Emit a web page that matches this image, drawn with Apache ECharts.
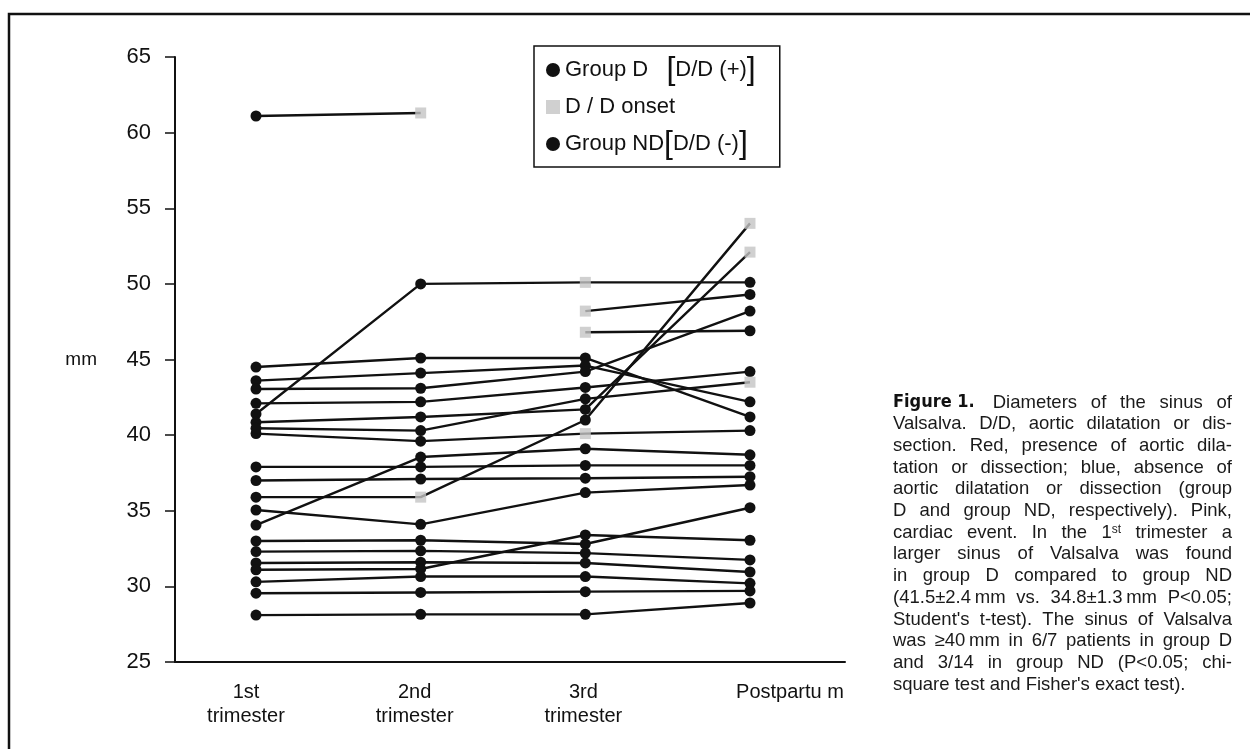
<!DOCTYPE html>
<html>
<head>
<meta charset="utf-8">
<script src="https://cdn.jsdelivr.net/npm/echarts@6/dist/echarts.min.js"></script>
<style>
html,body{margin:0;padding:0;background:#fff;}
#chart{width:1250px;height:749px;}
</style>
</head>
<body>
<div id="chart"></div>
<script>
// ---------- DATA ----------
const categories = ['1st\ntrimester', '2nd\ntrimester', '3rd\ntrimester', 'Postpartu m'];
const yTicks = [25, 30, 35, 40, 45, 50, 55, 60, 65];
// one row per patient: sinus of Valsalva diameter (mm) at the four time points (null = not shown)
const patientValues = [
  [61.1, 61.3, null, null],
  [41.4, 50.0, 50.1, 50.1],
  [35.9, 35.9, 41.0, 54.0],
  [null, null, 48.2, 49.3],
  [null, null, 46.8, 46.9],
  [40.1, 39.6, 40.1, 40.3],
  [40.85, 41.2, 41.7, 52.1],
  [44.5, 45.1, 45.1, 41.2],
  [43.6, 44.1, 44.6, 42.2],
  [43.05, 43.1, 44.2, 48.2],
  [42.1, 42.2, 43.15, 44.2],
  [40.45, 40.3, 42.4, 43.5],
  [37.9, 37.9, 38.0, 38.0],
  [37.0, 37.1, 37.15, 37.25],
  [34.05, 38.55, 39.1, 38.7],
  [35.05, 34.1, 36.2, 36.7],
  [33.0, 33.05, 32.8, 35.2],
  [32.3, 32.35, 32.2, 31.75],
  [31.55, 31.6, 31.55, 30.95],
  [31.1, 31.15, 33.4, 33.05],
  [30.3, 30.65, 30.65, 30.2],
  [29.55, 29.6, 29.65, 29.7],
  [28.1, 28.15, 28.15, 28.9]
];
// time-point indexes (0..3) at which the D/D onset was recorded, per patient
const patientOnset = [
  [1], [2], [1, 3], [2], [2], [2], [3], [], [], [], [], [3],
  [], [], [], [], [], [], [], [], [], [], []
];
const groupNames = ['Group D', 'D / D onset', 'Group ND'];
const captionBold = 'Figure 1.';
const captionLines = [
  'Diameters of the sinus of',
  'Valsalva. D/D, aortic dilatation or dis-',
  'section. Red, presence of aortic dila-',
  'tation or dissection; blue, absence of',
  'aortic dilatation or dissection (group',
  'D and group ND, respectively). Pink,',
  'cardiac event. In the 1^st trimester a',
  'larger sinus of Valsalva was found',
  'in group D compared to group ND',
  '(41.5±2.4\u2009mm vs. 34.8±1.3\u2009mm P<0.05;',
  "Student's t-test). The sinus of Valsalva",
  'was \u226540\u2009mm in 6/7 patients in group D',
  'and 3/14 in group ND (P<0.05; chi-',
  "square test and Fisher's exact test)."
];

// ---------- CHART ----------
const FONT = "'Liberation Sans', Arial, Helvetica, sans-serif";
const INK = '#111';
const chart = echarts.init(document.getElementById('chart'), null, {renderer: 'canvas'});

const series = [];
patientValues.forEach((row, p) => {
  const isD = patientOnset[p].length > 0;
  const data = [];
  row.forEach((v, i) => {
    if (v === null) return;
    if (patientOnset[p].indexOf(i) >= 0) data.push({value: [i + 1, v], symbol: 'none'});
    else data.push([i + 1, v]);
  });
  series.push({
    type: 'line', name: isD ? groupNames[0] : groupNames[2], data: data,
    symbol: 'circle', symbolSize: 11, showAllSymbol: true,
    lineStyle: {color: INK, width: 2.4}, itemStyle: {color: INK},
    emphasis: {disabled: true}, z: 3, animation: false
  });
});
const onsetData = [];
patientValues.forEach((row, p) => patientOnset[p].forEach(i => onsetData.push([i + 1, row[i]])));
series.push({
  type: 'scatter', name: groupNames[1], data: onsetData, symbol: 'rect', symbolSize: 11,
  itemStyle: {color: '#c4c4c4'}, z: 5, animation: false
});

// caption, justified word by word
const ctx = document.createElement('canvas').getContext('2d');
const CAP_SIZE = 18.5, CAP_L = 893, CAP_R = 1232, CAP_TOP = 404, CAP_LH = 21.7;
function measure(txt, size, weight, fam) {
  ctx.font = (weight || 'normal') + ' ' + size + 'px ' + (fam || FONT);
  return ctx.measureText(txt).width;
}
const graphics = [];
// frame
graphics.push({type: 'polyline', shape: {points: [[9, 749], [9, 14], [1250, 14]]},
  style: {stroke: INK, lineWidth: 2.5, fill: null}, silent: true});
captionLines.forEach((line, li) => {
  const y = CAP_TOP + li * CAP_LH;
  let left = CAP_L;
  if (li === 0) {
    const bf = "'Liberation Sans Narrow', 'DejaVu Sans Condensed', " + FONT;
    graphics.push({type: 'text', left: CAP_L, top: y - 11,
      style: {text: captionBold, font: 'bold 18px ' + bf, fill: INK}});
    left = CAP_L + measure(captionBold, 18, 'bold', bf) + 18;
  }
  const words = line.split(' ');
  const widths = words.map(w => {
    if (w.indexOf('^') >= 0) {
      const parts = w.split('^');
      return measure(parts[0], CAP_SIZE) + measure(parts[1], 12);
    }
    return measure(w, CAP_SIZE);
  });
  const total = widths.reduce((a, b) => a + b, 0);
  const last = li === captionLines.length - 1;
  let gap = last ? measure(' ', CAP_SIZE) : (CAP_R - left - total) / Math.max(1, words.length - 1);
  let x = left;
  words.forEach((w, wi) => {
    let style;
    if (w.indexOf('^') >= 0) {
      const parts = w.split('^');
      style = {text: '{n|' + parts[0] + '}{s|' + parts[1] + '}', rich: {
        n: {font: CAP_SIZE + 'px ' + FONT, fill: '#1a1a1a'},
        s: {font: '12px ' + FONT, fill: '#1a1a1a', verticalAlign: 'top', padding: [0, 0, 7, 0]}}};
    } else {
      style = {text: w, font: CAP_SIZE + 'px ' + FONT, fill: '#1a1a1a'};
    }
    graphics.push({type: 'text', left: x, top: y - 11, style: style, silent: true});
    x += widths[wi] + gap;
  });
});

const labelShift = [-10, -6, -2, 40];
const option = {
  backgroundColor: '#fff',
  animation: false,
  textStyle: {fontFamily: FONT},
  grid: {left: 175, right: 405, top: 57, bottom: 87, containLabel: false},
  legend: {
    orient: 'vertical', left: 534, top: 46,
    padding: [8, 24, 7, 12], itemGap: 8, itemWidth: 14, itemHeight: 14,
    borderColor: INK, borderWidth: 1.5, backgroundColor: '#fff',
    selectedMode: false, z: 10,
    data: [{name: groupNames[0], icon: 'circle'}, {name: groupNames[1], icon: 'rect'}, {name: groupNames[2], icon: 'circle'}],
    formatter: function (n) {
      if (n === groupNames[0]) return n + '   {br|[}{t|D/D (+)}{br|]}';
      if (n === groupNames[2]) return n + '{br|[}{t|D/D (-)}{br|]}';
      return n;
    },
    textStyle: {fontSize: 22, color: INK, fontFamily: FONT, lineHeight: 26,
      rich: {br: {fontSize: 32, fontWeight: 'lighter', color: INK, fontFamily: FONT, lineHeight: 26},
             t: {fontSize: 22, color: INK, fontFamily: FONT, lineHeight: 26}}}
  },
  xAxis: {
    type: 'value', min: 0.508, max: 4.577,
    splitLine: {show: false},
    axisLine: {show: true, lineStyle: {color: INK, width: 2}},
    axisTick: {show: false},
    axisLabel: {
      customValues: [1, 2, 3, 4], margin: 18, color: INK, fontSize: 20, lineHeight: 24,
      formatter: function (v) {
        const i = Math.round(v) - 1;
        return '{c' + i + '|' + categories[i] + '}';
      },
      rich: {
        c0: {fontSize: 20, lineHeight: 24, color: INK, padding: [0, -labelShift[0] * 2, 0, 0]},
        c1: {fontSize: 20, lineHeight: 24, color: INK, padding: [0, -labelShift[1] * 2, 0, 0]},
        c2: {fontSize: 20, lineHeight: 24, color: INK, padding: [0, -labelShift[2] * 2, 0, 0]},
        c3: {fontSize: 20, lineHeight: 24, color: INK, padding: [0, 0, 0, labelShift[3] * 2]}
      }
    }
  },
  yAxis: {
    type: 'value', min: yTicks[0], max: yTicks[yTicks.length - 1], interval: 5,
    name: 'mm', nameLocation: 'middle', nameRotate: 0, nameGap: 78,
    nameTextStyle: {fontSize: 19, color: INK, fontFamily: FONT},
    splitLine: {show: false},
    axisLine: {show: true, lineStyle: {color: INK, width: 2}},
    axisTick: {show: true, length: 10, lineStyle: {color: INK, width: 1.5}},
    axisLabel: {fontSize: 22, color: INK, margin: 24}
  },
  series: series,
  graphic: graphics
};
chart.setOption(option);
</script>
</body>
</html>
